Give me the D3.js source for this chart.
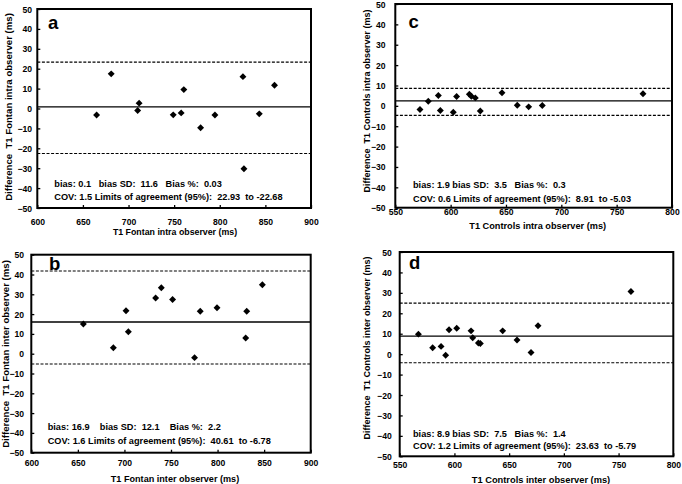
<!DOCTYPE html>
<html>
<head>
<meta charset="utf-8">
<script src="https://cdn.jsdelivr.net/npm/d3@7"></script>
<style>
  html, body { margin: 0; padding: 0; background: #fff; }
  svg { display: block; }
  text { font-family: "Liberation Sans", Arial, Helvetica, sans-serif; font-weight: bold; fill: #000; }
</style>
</head>
<body>
<svg id="chart" width="682" height="484"></svg>
<script>
// ---------- DATA ----------
const yTicks = [-50, -40, -30, -20, -10, 0, 10, 20, 30, 40, 50];
const xTicksFontan = [600, 650, 700, 750, 800, 850, 900];
const xTicksControls = [550, 600, 650, 700, 750, 800];

// Panel a: T1 Fontan intra observer
const aMean = [665, 681, 710, 711.6, 749, 757.7, 760.6, 779, 794.7, 825.4, 826.5, 843.3, 860];
const aDiff = [-3.3, 17.4, -1.0, 2.7, -3.2, -2.2, 9.5, -9.7, -3.3, 16.0, -30.3, -2.7, 11.7];
const aLines = [23.3, 0.8, -22.6];   // upper LoA, bias, lower LoA (as drawn)
const aStats = ["bias: 0.1   bias SD:  11.6   Bias %:  0.03",
                "COV: 1.5 Limits of agreement (95%):  22.93  to -22.68"];

// Panel b: T1 Fontan inter observer
const bMean = [655.9, 688.1, 701.7, 704.2, 733.5, 739.6, 751.7, 775.3, 781.4, 799.4, 830.2, 831.3, 848.1];
const bDiff = [15.0, 3.0, 21.7, 11.1, 28.1, 33.3, 27.4, -2.0, 21.4, 23.2, 7.9, 21.4, 34.8];
const bLines = [41.8, 16.0, -5.2];
const bStats = ["bias: 16.9    bias SD:  12.1    Bias %:  2.2",
                "COV: 1.6 Limits of agreement (95%):  40.61  to -6.78"];

// Panel c: T1 Controls intra observer
const cMean = [572.3, 579.8, 588.9, 590.7, 602.4, 605.4, 616.9, 618.7, 622.3, 626.8, 646.4, 660.2, 670.5, 682.8, 773.8];
const cDiff = [-1.8, 2.3, 5.1, -2.3, -3.1, 4.6, 5.7, 4.7, 3.9, -2.5, 6.4, 0.3, -0.5, 0.2, 5.9];
const cLines = [8.6, 2.4, -4.7];
const cStats = ["bias: 1.9 bias SD:  3.5   Bias %:  0.3",
                "COV: 0.6 Limits of agreement (95%):  8.91  to -5.03"];

// Panel d: T1 Controls inter observer
const dMean = [567.1, 580.1, 587.8, 592.0, 595.1, 602.1, 615.2, 616.7, 621.9, 623.7, 644.1, 657.2, 670.0, 676.4, 761.3];
const dDiff = [9.8, 3.1, 3.8, -0.5, 11.9, 12.7, 11.4, 8.0, 5.5, 5.2, 11.4, 6.9, 0.8, 13.9, 30.7];
const dLines = [25.0, 8.8, -4.2];
const dStats = ["bias: 8.9 bias SD:  7.5   Bias %:  1.4",
                "COV: 1.2 Limits of agreement (95%):  23.63  to -5.79"];

// ---------- PANELS (data refs + layout) ----------
const panels = [
  { letter: "a", mean: aMean, diff: aDiff, lines: aLines, stats: aStats,
    xDomain: [600, 900], xTicks: xTicksFontan,
    xTitle: "T1 Fontan intra observer (ms)", yTitle: "Difference  T1 Fontan intra observer (ms)",
    box: { l: 37.3, r: 311, t: 9, b: 208 },
    yLabRight: 32, xLabBase: 224.5, xTitle2: { x: 175, y: 234.5, fs: 8.8 },
    yTitle2: { x: 9, y: 107, fs: 9.6 },
    letterPos: { x: 48, y: 28.5 }, statsPos: { x: 54.3, y1: 187.3, y2: 200 } },
  { letter: "b", mean: bMean, diff: bDiff, lines: bLines, stats: bStats,
    xDomain: [600, 900], xTicks: xTicksFontan,
    xTitle: "T1 Fontan inter observer (ms)", yTitle: "Difference  T1 Fontan inter observer (ms)",
    box: { l: 31.3, r: 310.7, t: 254.7, b: 452.7 },
    yLabRight: 24, xLabBase: 466.5, xTitle2: { x: 175, y: 482, fs: 9.1 },
    yTitle2: { x: 6, y: 354, fs: 9.6 },
    letterPos: { x: 49, y: 270.3 }, statsPos: { x: 47.7, y1: 430.3, y2: 444.3 } },
  { letter: "c", mean: cMean, diff: cDiff, lines: cLines, stats: cStats,
    xDomain: [550, 800], xTicks: xTicksControls,
    xTitle: "T1 Controls intra observer (ms)", yTitle: "Difference  T1 Controls intra observer (ms)",
    box: { l: 395.3, r: 672, t: 4, b: 207.7 },
    yLabRight: 385.5, xLabBase: 215.3, xTitle2: { x: 537.7, y: 228.5, fs: 9.2 },
    yTitle2: { x: 367, y: 101, fs: 9.0 },
    letterPos: { x: 408.5, y: 28.3 }, statsPos: { x: 413, y1: 188.3, y2: 202.3 } },
  { letter: "d", mean: dMean, diff: dDiff, lines: dLines, stats: dStats,
    xDomain: [550, 800], xTicks: xTicksControls,
    xTitle: "T1 Controls inter observer (ms)", yTitle: "Difference  T1 Controls inter observer (ms)",
    box: { l: 399.7, r: 673.3, t: 252, b: 456.3 },
    yLabRight: 391.7, xLabBase: 468, xTitle2: { x: 541, y: 482.6, fs: 9.3 },
    yTitle2: { x: 367, y: 348, fs: 9.0 },
    letterPos: { x: 409, y: 268.7 }, statsPos: { x: 413, y1: 437, y2: 448.6 } }
];

const svg = d3.select("#chart");
const diamond = d3.symbol(d3.symbolSquare, 24);

panels.forEach(p => {
  const B = p.box;
  const x = d3.scaleLinear().domain(p.xDomain).range([B.l, B.r]);
  const y = d3.scaleLinear().domain([-50, 50]).range([B.b, B.t]);
  const g = svg.append("g");

  // Y axis (ticks inward)
  const yAx = g.append("g").attr("transform", `translate(${B.l},0)`)
    .call(d3.axisLeft(y).tickValues(yTicks).tickSize(-3).tickSizeOuter(0).tickFormat(d3.format("d")));
  yAx.select(".domain").remove();
  yAx.selectAll(".tick line").attr("stroke", "#000").attr("stroke-width", 1.3);
  yAx.selectAll(".tick text").attr("x", p.yLabRight - B.l).attr("dy", "0.35em")
    .style("font-size", "8.6px").attr("font-family", null).attr("fill", "#000");

  // X axis
  const xAx = g.append("g").attr("transform", `translate(0,${B.b})`)
    .call(d3.axisBottom(x).tickValues(p.xTicks).tickSize(-3).tickSizeOuter(0).tickFormat(d3.format("d")));
  xAx.select(".domain").remove();
  xAx.selectAll(".tick line").attr("stroke", "#000").attr("stroke-width", 1.3);
  xAx.selectAll(".tick text").attr("y", p.xLabBase - B.b).attr("dy", 0)
    .style("font-size", "8.6px").attr("font-family", null).attr("fill", "#000");

  // Reference lines
  const dashes = [true, false, true];
  p.lines.forEach((v, i) => {
    g.append("line")
      .attr("x1", B.l).attr("x2", B.r)
      .attr("y1", y(v)).attr("y2", y(v))
      .attr("stroke", "#000")
      .attr("stroke-width", dashes[i] ? 1.1 : 1.3)
      .attr("stroke-dasharray", dashes[i] ? "3,1.6" : null);
  });

  // Points
  g.selectAll("path.pt").data(p.mean.map((m, i) => [m, p.diff[i]]))
    .enter().append("path").attr("class", "pt")
    .attr("d", diamond)
    .attr("transform", d => `translate(${x(d[0])},${y(d[1])}) rotate(45)`)
    .attr("fill", "#000");

  // Frame
  g.append("rect")
    .attr("x", B.l).attr("y", B.t)
    .attr("width", B.r - B.l).attr("height", B.b - B.t)
    .attr("fill", "none").attr("stroke", "#000").attr("stroke-width", 2);

  // Panel letter
  g.append("text").attr("x", p.letterPos.x).attr("y", p.letterPos.y)
    .style("font-size", "18.5px").text(p.letter);

  // Stats
  p.stats.forEach((s, i) => {
    g.append("text").attr("x", p.statsPos.x).attr("y", i === 0 ? p.statsPos.y1 : p.statsPos.y2)
      .style("font-size", "9.2px").style("white-space", "pre").text(s);
  });

  // X title
  g.append("text").attr("x", p.xTitle2.x).attr("y", p.xTitle2.y)
    .attr("text-anchor", "middle").style("font-size", p.xTitle2.fs + "px").text(p.xTitle);

  // Y title
  g.append("text")
    .attr("transform", `translate(${p.yTitle2.x},${p.yTitle2.y}) rotate(-90)`)
    .attr("text-anchor", "middle").attr("dy", "0.35em")
    .style("font-size", p.yTitle2.fs + "px").style("white-space", "pre").text(p.yTitle);
});
</script>
</body>
</html>
